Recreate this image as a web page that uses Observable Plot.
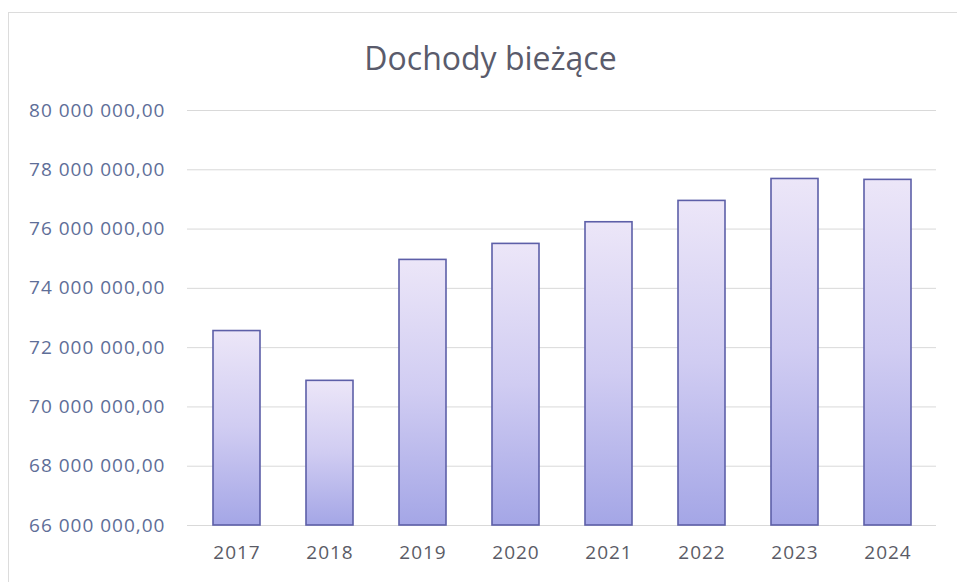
<!DOCTYPE html>
<html>
<head>
<meta charset="utf-8">
<script src="https://cdn.jsdelivr.net/npm/d3@7"></script>
<script src="https://cdn.jsdelivr.net/npm/@observablehq/plot@0.6"></script>
<style>
  html, body { margin: 0; padding: 0; background: #fff; }
  body { width: 957px; height: 582px; position: relative; overflow: hidden; font-family: "Open Sans", sans-serif; }
  #frame { position: absolute; left: 8px; top: 12px; width: 1000px; height: 1000px; border-left: 1px solid #dcdcdc; border-top: 1px solid #dcdcdc; }
  #title { position: absolute; left: 0; top: 38px; width: 957px; padding-left: 24px; box-sizing: border-box; text-align: center; font-size: 32px; line-height: 40px; color: #5a5b6b; }
  #chart { position: absolute; left: 0; top: 90px; }
</style>
</head>
<body>
<div id="frame"></div>
<div id="title">Dochody bieżące</div>
<div id="chart"></div>
<script>
const years = ["2017", "2018", "2019", "2020", "2021", "2022", "2023", "2024"];
const values = [72560000, 70880000, 74960000, 75500000, 76230000, 76950000, 77690000, 77660000];
const yTicks = [66000000, 68000000, 70000000, 72000000, 74000000, 76000000, 78000000, 80000000];

const data = years.map((y, i) => ({year: y, value: values[i]}));
const fmt = v => d3.format(",.2f")(v).replace(/,/g, " ").replace(".", ",");

const plot = Plot.plot({
  width: 957,
  height: 492,
  marginTop: 20,
  marginBottom: 57,
  marginLeft: 187,
  marginRight: 21,
  style: {fontFamily: "Open Sans, sans-serif", fontSize: "19px", letterSpacing: "1px", background: "transparent"},
  x: {domain: years, paddingInner: 0.5, paddingOuter: 0.25, label: null, tickSize: 0, tickPadding: 20},
  y: {domain: [66000000, 80000000], ticks: yTicks, tickFormat: fmt, label: null, tickSize: 0, tickPadding: 22},
  marks: [
    Plot.ruleY(yTicks, {stroke: "#d9d9d9", strokeWidth: 1}),
    Plot.barY(data, {x: "year", y1: () => 66000000, y2: "value", fill: "url(#barGrad)", stroke: "#5d5fa8", strokeWidth: 1.6}),
    Plot.axisY({ticks: yTicks, tickFormat: fmt, tickSize: 0, tickPadding: 22, label: null, fill: "#5e6e98"}),
    Plot.axisX({tickSize: 0, tickPadding: 20, label: null, fill: "#5b5b66"})
  ]
});

const ns = "http://www.w3.org/2000/svg";
const defs = document.createElementNS(ns, "defs");
const grad = document.createElementNS(ns, "linearGradient");
grad.setAttribute("id", "barGrad");
grad.setAttribute("x1", "0"); grad.setAttribute("y1", "0");
grad.setAttribute("x2", "0"); grad.setAttribute("y2", "1");
[["0%", "#ece6f8"], ["50%", "#d0ccf2"], ["100%", "#a4a6e6"]].forEach(([o, c]) => {
  const s = document.createElementNS(ns, "stop");
  s.setAttribute("offset", o); s.setAttribute("stop-color", c);
  grad.appendChild(s);
});
defs.appendChild(grad);
plot.insertBefore(defs, plot.firstChild);
document.getElementById("chart").appendChild(plot);
</script>
</body>
</html>
